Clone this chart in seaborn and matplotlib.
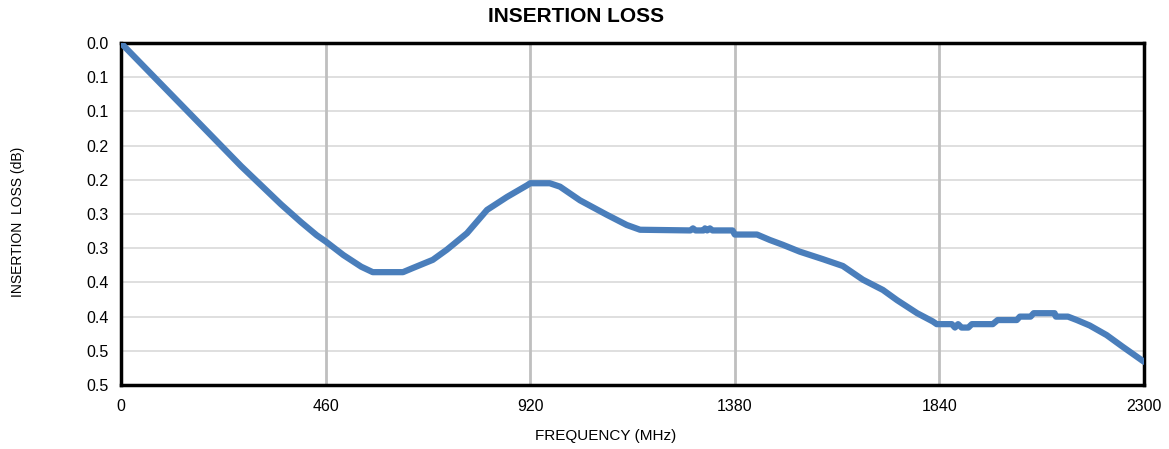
import numpy as np
import pandas as pd
import matplotlib
matplotlib.use("Agg")
import matplotlib.pyplot as plt
import seaborn as sns

# values
freq_mhz = [0, 45, 90, 135, 180, 225, 270, 315, 360, 405, 440, 460, 500, 540,
            566, 634, 656, 701, 733, 778, 823, 868, 913, 920, 964, 987, 1032,
            1092, 1137, 1167, 1280, 1286, 1292, 1310, 1313, 1318, 1324, 1330,
            1375, 1380, 1430, 1459, 1488, 1526, 1578, 1623, 1668, 1713, 1745,
            1790, 1825, 1834, 1868, 1875, 1882, 1890, 1905, 1913, 1960, 1971,
            2014, 2021, 2045, 2052, 2099, 2102, 2129, 2149, 2178, 2216, 2252,
            2300]
loss_db = [0.000, 0.030, 0.060, 0.090, 0.120, 0.150, 0.180, 0.208, 0.236,
           0.262, 0.281, 0.290, 0.310, 0.327, 0.335, 0.335, 0.329, 0.317,
           0.302, 0.278, 0.244, 0.225, 0.208, 0.205, 0.205, 0.210, 0.230,
           0.251, 0.266, 0.273, 0.274, 0.271, 0.274, 0.274, 0.271, 0.274,
           0.271, 0.274, 0.274, 0.280, 0.280, 0.288, 0.295, 0.305, 0.316,
           0.326, 0.346, 0.361, 0.376, 0.395, 0.407, 0.411, 0.411, 0.416,
           0.411, 0.416, 0.416, 0.411, 0.411, 0.405, 0.405, 0.400, 0.400,
           0.395, 0.395, 0.400, 0.400, 0.405, 0.413, 0.427, 0.444, 0.466]

x_ticks = [0, 460, 920, 1380, 1840, 2300]
y_ticks = [0.0, 0.05, 0.10, 0.15, 0.20, 0.25, 0.30, 0.35, 0.40, 0.45, 0.50]
y_tick_labels = ["0.0", "0.1", "0.1", "0.2", "0.2", "0.3", "0.3", "0.4",
                 "0.4", "0.5", "0.5"]

df = pd.DataFrame({"freq": freq_mhz, "loss": loss_db})

sns.set_style("white")
plt.rcParams["font.family"] = ["Liberation Sans", "DejaVu Sans"]
plt.rcParams["text.color"] = "black"
plt.rcParams["axes.labelcolor"] = "black"

fig = plt.figure(figsize=(11.69, 4.49), dpi=100)
ax = fig.add_axes([0.1035, 0.1425, 0.8751, 0.7617])

# grid
for yv in y_ticks[1:-1]:
    ax.axhline(yv, color="#d9d9d9", lw=1.2, zorder=0)
for xv in x_ticks[1:-1]:
    ax.axvline(xv, color="#bfbfbf", lw=2, zorder=0)

sns.lineplot(data=df, x="freq", y="loss", ax=ax, color="#4a7ebb", lw=4.5,
             solid_capstyle="round", solid_joinstyle="round", zorder=3)

ax.set_xlim(0, 2300)
ax.set_ylim(0.5, 0.0)
ax.set_xticks(x_ticks)
ax.set_yticks(y_ticks)
ax.set_yticklabels(y_tick_labels)
ax.tick_params(axis="both", direction="out", length=5, width=2,
               labelsize=11.5, colors="black", pad=4)
ax.tick_params(axis="x", pad=5)

for sp in ax.spines.values():
    sp.set_color("black")
    sp.set_linewidth(2.5)

# title and labels sit a bit left of the axes centre in the original
fig.text(576 / 1169, 1 - 17 / 449, "INSERTION LOSS", fontsize=15,
         fontweight="bold", ha="center", va="center")
ax.set_xlabel("FREQUENCY (MHz)", fontsize=11)
ax.xaxis.set_label_coords((606 - 121) / 1023, -44 / 342)
ax.set_ylabel("INSERTION  LOSS (dB)", fontsize=10)
ax.yaxis.set_label_coords(-96 / 1023, (385 - 222) / 342)

fig.savefig("out.png", dpi=100)
